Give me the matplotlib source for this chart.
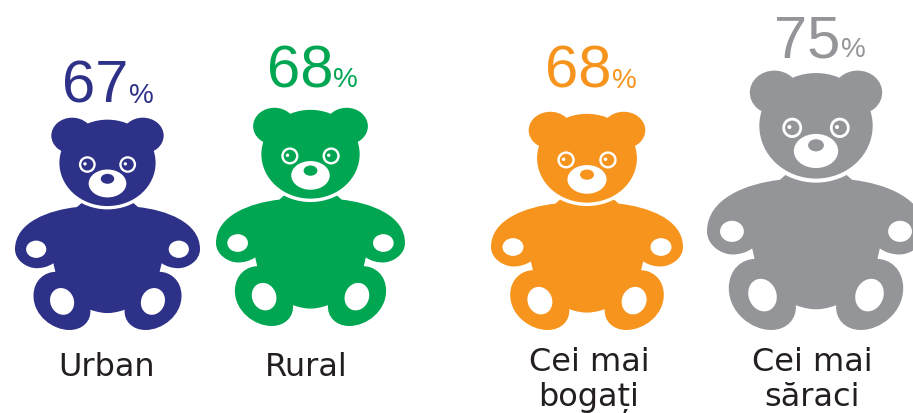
import matplotlib
matplotlib.use("Agg")
import matplotlib.pyplot as plt
from matplotlib.path import Path
from matplotlib.patches import PathPatch, Ellipse

# data
groups = [["Urban"], ["Rural"], ["Cei mai", "bogați"], ["Cei mai", "săraci"]]
values = [67, 68, 68, 75]
colors = ["#2E3188", "#00A651", "#F7941D", "#939598"]

# layout, in pixels of the picture
centers = [107.5, 310.5, 587, 816]
widths = [185, 189, 192, 218]
bottoms = [331, 327, 331, 331]
num_right = [128.5, 333.5, 612, 840]
pct_left = [128.5, 333.5, 612, 841.5]
num_base = [103, 87, 88, 57]
label_x = [107, 306, 589, 812]
label_y = [[376], [376], [371, 406], [371, 406]]


def bear_height(v):
    return 212 + (v - 67) * 5.875


# left half of the body, in the coordinates of the drawing
# (center x=323, bottom y=873, 550 wide, 638 high)
half_verts = [(323, 480), (247, 490), (232, 503),
              (150, 512), (48, 548), (48, 630),
              (48, 665), (85, 687), (112, 687),
              (130, 687), (148, 682), (162, 672),
              (168, 698),
              (138, 698), (103, 722), (103, 770),
              (103, 830), (160, 873), (210, 873),
              (250, 873), (275, 845), (272, 812),
              (295, 820), (310, 822), (323, 822)]
L, C = Path.LINETO, Path.CURVE4
half_codes = [Path.MOVETO, L, L, C, C, C, C, C, C, C, C, C, L,
              C, C, C, C, C, C, C, C, C, C, C, C]


def body_path():
    verts = list(half_verts)
    codes = list(half_codes)
    for i in range(len(half_verts) - 2, -1, -1):
        x, y = half_verts[i]
        verts.append((646 - x, y))
        codes.append(half_codes[i + 1])
    return verts, codes


def draw_bear(ax, cx, bottom, w, h, color):
    sx = w / 550
    sy = h / 638

    def px(x, y):
        return cx + (x - 323) * sx, bottom - (873 - y) * sy

    def ell(x, y, rx, ry, c, angle=0, z=2):
        ax.add_patch(Ellipse(px(x, y), 2 * rx * sx, 2 * ry * sy, angle=angle,
                             facecolor=c, edgecolor='none', zorder=z))

    verts, codes = body_path()
    ax.add_patch(PathPatch(Path([px(*p) for p in verts], codes),
                           facecolor=color, edgecolor='none', zorder=2))
    # paws and feet
    for side in (-1, 1):
        ell(323 + side * 212, 630, 30, 26, 'white', z=3)
        ell(323 + side * 135, 787, 35, 41, 'white', angle=side * 22, z=3)
    # head
    ell(323, 370, 154, 140, 'white', z=4)
    for side in (-1, 1):
        ell(323 + side * 105, 288, 62, 54, color, z=5)
    ell(323, 370, 143, 130, color, z=5)
    ell(323, 432, 56, 42, 'white', z=6)
    ell(323, 418, 20, 15, color, z=7)
    for side in (-1, 1):
        ex = 323 + side * 60
        ell(ex, 375, 25, 25, 'white', z=6)
        ell(ex, 375, 18, 18, color, z=7)
        ell(ex - 7, 373, 5, 5, 'white', z=8)


fig = plt.figure(figsize=(9.13, 4.14), dpi=100)
ax = fig.add_axes([0, 0, 1, 1])
ax.set_xlim(0, 913)
ax.set_ylim(414, 0)
ax.axis('off')

for i, v in enumerate(values):
    draw_bear(ax, centers[i], bottoms[i], widths[i], bear_height(v), colors[i])
    ax.text(num_right[i], num_base[i], str(v), color=colors[i], fontsize=43,
            family=['Liberation Sans'], ha='right', va='baseline')
    ax.text(pct_left[i], num_base[i], "%", color=colors[i], fontsize=20,
            family=['Liberation Sans'], ha='left', va='baseline')
    for line, y in zip(groups[i], label_y[i]):
        ax.text(label_x[i], y, line, color="#231F20", fontsize=23,
                family=['DejaVu Sans'], ha='center', va='baseline')

fig.savefig("out.png", dpi=100)
